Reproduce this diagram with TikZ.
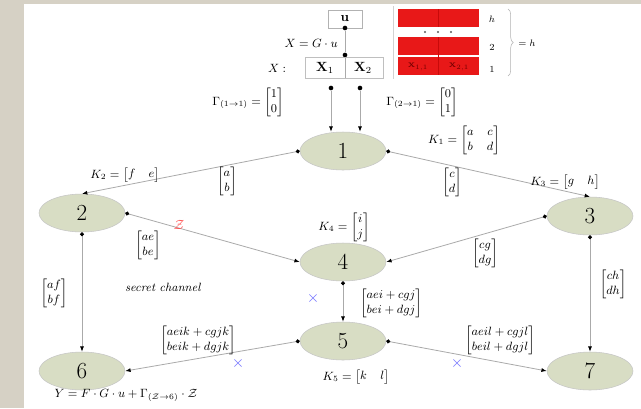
\documentclass[tikz,border=0pt]{standalone}
\usepackage{amsmath}
\usetikzlibrary{arrows.meta,shapes.geometric,decorations.pathreplacing}
\definecolor{bgbeige}{RGB}{214,209,197}
\definecolor{nodefill}{RGB}{216,221,196}
\definecolor{edgegray}{RGB}{170,170,170}
\definecolor{blockred}{RGB}{232,24,24}
\definecolor{blockdark}{RGB}{200,10,10}
\begin{document}
\begin{tikzpicture}[x=0.75pt,y=-0.75pt,
  gnode/.style={ellipse,draw=gray!45,fill=nodefill,minimum width=64.5pt,minimum height=28.5pt,inner sep=0pt,font=\LARGE},
  edge/.style={draw=edgegray,line width=0.6pt,{Circle[length=3pt,color=black]}-{Latex[length=4pt,color=black]}},
  plain/.style={draw=edgegray,line width=0.6pt},
  lbl/.style={inner sep=0pt,font=\small},
  cross/.style={text=blue!60,font=\large,inner sep=0pt},
  dot/.style={circle,fill=black,inner sep=0pt,minimum size=3.5pt}]
\useasboundingbox (0,0) rectangle (641,408);
\fill[bgbeige] (0,0) rectangle (641,408);
\fill[white] (24,4) rectangle (641,408);

% graph nodes
\node[gnode] (n1) at (343,151) {1};
\node[gnode] (n2) at (82,213) {2};
\node[gnode] (n3) at (590,216) {3};
\node[gnode] (n4) at (343,262) {4};
\node[gnode] (n5) at (343,341) {5};
\node[gnode] (n6) at (82,371) {6};
\node[gnode] (n7) at (590,371) {7};

% edges
\draw[edge] (n1.west) -- (n2.north);
\draw[edge] (n1.east) -- (n3.north);
\draw[edge] (n2.east) -- (n4.west);
\draw[edge] (n3.west) -- (n4.east);
\draw[edge] (n4.south) -- (n5.north);
\draw[edge] (n2.south) -- (n6.north);
\draw[edge] (n3.south) -- (n7.north);
\draw[edge] (n5.west) -- (n6.east);
\draw[edge] (n5.east) -- (n7.west);

% top: source
\node[draw=gray!60,minimum width=25.5pt,minimum height=13.5pt,inner sep=0pt] (ubox) at (345,19) {$\mathbf{u}$};
\node[dot] (du) at (345,28) {};
\node[dot] (dx) at (345,55) {};
\node[draw=gray!50,minimum width=58.5pt,minimum height=15.75pt,inner sep=0pt] (xbox) at (344,67.5) {};
\coordinate (xdiv) at (345,78);
\draw[plain] (du) -- (dx);
\draw[plain] (dx) -- (xdiv);
\node[inner sep=0pt] (x1) at (325,68) {$\mathbf{X}_1$};
\node[inner sep=0pt] (x2) at (363,68) {$\mathbf{X}_2$};
\node[lbl,anchor=east] (xgu) at (338,43) {$X = G\cdot u$};
\node[lbl] (xcol) at (277,68) {$X:$};

\node[dot] (da) at (331,88) {};
\node[dot] (db) at (360,88) {};
\draw[plain,-{Latex[length=4pt,color=black]}] (da) -- (da |- n1.north);
\draw[plain,-{Latex[length=4pt,color=black]}] (db) -- (db |- n1.north);
\node[lbl] (g1) at (248,102) {$\Gamma_{(1\to 1)} = \begin{bmatrix}1\\0\end{bmatrix}$};
\node[lbl] (g2) at (422,102) {$\Gamma_{(2\to 1)} = \begin{bmatrix}0\\1\end{bmatrix}$};

% red blocks
\draw[gray!35] (393,6) -- (393,79);
\fill[blockred] (398,9) rectangle (479,27);
\fill[blockred] (398,37) rectangle (479,55);
\fill[blockred] (398,56.5) rectangle (479,75);
\draw[blockdark,line width=0.4pt] (438.5,9) -- (438.5,27);
\draw[blockdark,line width=0.4pt] (438.5,37) -- (438.5,75);
\foreach \xx in {425,438,451} \fill[gray!70!black] (\xx,32) circle (1.2);
\node[font=\tiny,text=red!45!black,inner sep=0pt] (b11) at (418,67) {$\mathbf{X}_{1,1}$};
\node[font=\tiny,text=red!45!black,inner sep=0pt] (b21) at (459,67) {$\mathbf{X}_{2,1}$};
\node[lbl,font=\scriptsize] (rh) at (492,19) {$h$};
\node[lbl,font=\scriptsize] (r2) at (492,47) {$2$};
\node[lbl,font=\scriptsize] (r1) at (492,69) {$1$};
\draw[gray!60,decorate,decoration={brace,amplitude=4pt}] (508,9) -- (508,76);
\node[lbl,font=\scriptsize] (eqh) at (527,43) {$=h$};

% labels
\node[lbl] (k1) at (464,140) {$K_1 = \begin{bmatrix}a & c\\ b & d\end{bmatrix}$};
\node[lbl] (lab) at (227,181) {$\begin{bmatrix}a\\ b\end{bmatrix}$};
\node[lbl] (lcd) at (452,182) {$\begin{bmatrix}c\\ d\end{bmatrix}$};
\node[lbl] (k2) at (125,175) {$K_2 = \begin{bmatrix}f & e\end{bmatrix}$};
\node[lbl] (k3) at (565,182) {$K_3 = \begin{bmatrix}g & h\end{bmatrix}$};
\node[lbl] (lae) at (148,245) {$\begin{bmatrix}ae\\ be\end{bmatrix}$};
\node[inner sep=0pt,text=red!70] (zz) at (179,225) {$\mathcal{Z}$};
\node[lbl] (k4) at (344,227) {$K_4 = \begin{bmatrix}i\\ j\end{bmatrix}$};
\node[lbl] (lcg) at (485,253) {$\begin{bmatrix}cg\\ dg\end{bmatrix}$};
\node[lbl] (laf) at (54,293) {$\begin{bmatrix}af\\ bf\end{bmatrix}$};
\node[lbl] (lch) at (613,284) {$\begin{bmatrix}ch\\ dh\end{bmatrix}$};
\node[lbl] (sec) at (163,287) {\textit{secret channel}};
\node[cross] (c1) at (313,298) {$\times$};
\node[lbl] (l45) at (391,303) {$\begin{bmatrix}aei + cgj\\ bei + dgj\end{bmatrix}$};
\node[lbl] (l56) at (198,340) {$\begin{bmatrix}aeik + cgjk\\ beik + dgjk\end{bmatrix}$};
\node[cross] (c2) at (238,363) {$\times$};
\node[lbl] (l57) at (500,340) {$\begin{bmatrix}aeil + cgjl\\ beil + dgjl\end{bmatrix}$};
\node[cross] (c3) at (457,363) {$\times$};
\node[lbl] (k5) at (356,377) {$K_5 = \begin{bmatrix}k & l\end{bmatrix}$};
\node[lbl] (ylab) at (126,395) {$Y = F\cdot G\cdot u + \Gamma_{(\mathcal{Z}\to 6)}\cdot \mathcal{Z}$};
\end{tikzpicture}
\end{document}
